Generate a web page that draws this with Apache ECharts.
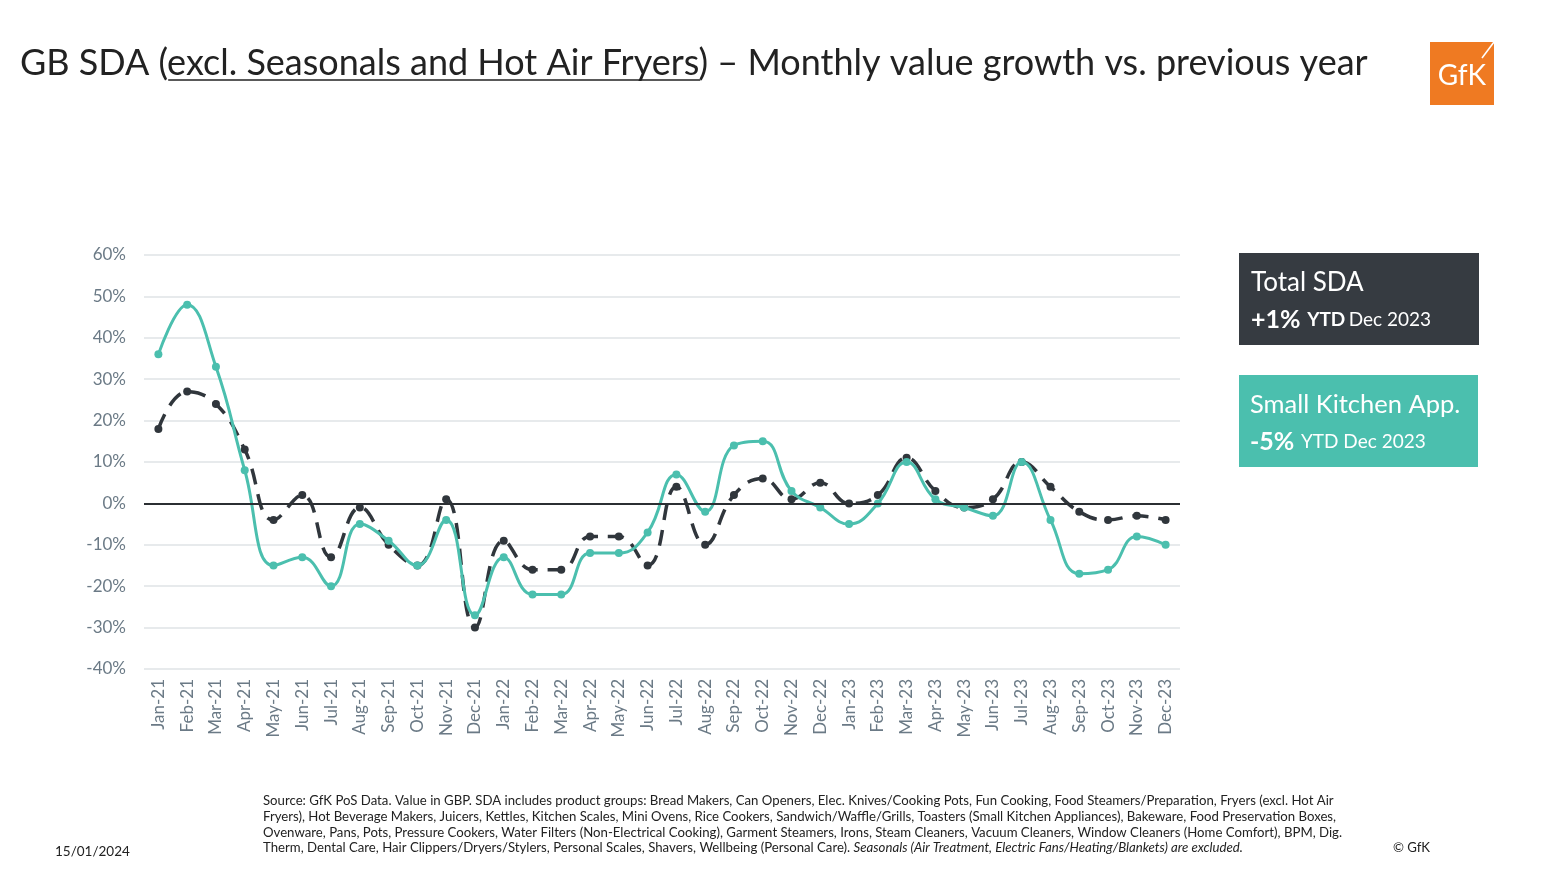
<!DOCTYPE html>
<html><head><meta charset="utf-8">
<script src="https://cdn.jsdelivr.net/npm/echarts@6/dist/echarts.min.js"></script>
<style>html,body{margin:0;padding:0;background:#fff}#c{width:1564px;height:878px}</style>
</head><body><div id="c"></div>
<script>
const months = ['Jan-21','Feb-21','Mar-21','Apr-21','May-21','Jun-21','Jul-21','Aug-21','Sep-21','Oct-21','Nov-21','Dec-21',
'Jan-22','Feb-22','Mar-22','Apr-22','May-22','Jun-22','Jul-22','Aug-22','Sep-22','Oct-22','Nov-22','Dec-22',
'Jan-23','Feb-23','Mar-23','Apr-23','May-23','Jun-23','Jul-23','Aug-23','Sep-23','Oct-23','Nov-23','Dec-23'];
const totalSDA = [18,27,24,13,-4,2,-13,-1,-10,-15,1,-30, -9,-16,-16,-8,-8,-15,4,-10,2,6,1,5, 0,2,11,3,-1,1,10,4,-2,-4,-3,-4];
const smallKitchen = [36,48,33,8,-15,-13,-20,-5,-9,-15,-4,-27, -13,-22,-22,-12,-12,-7,7,-2,14,15,3,-1, -5,0,10,1,-1,-3,10,-4,-17,-16,-8,-10];
const yTicks = [-40,-30,-20,-10,0,10,20,30,40,50,60];

const titlePre = 'GB SDA (';
const titleUl = 'excl. Seasonals and Hot Air Fryers';
const titlePost = ') – Monthly value growth vs. previous year';
const footLines = [
 'Source: GfK PoS Data. Value in GBP. SDA includes product groups: Bread Makers, Can Openers, Elec. Knives/Cooking Pots, Fun Cooking, Food Steamers/Preparation, Fryers (excl. Hot Air',
 'Fryers), Hot Beverage Makers, Juicers, Kettles, Kitchen Scales, Mini Ovens, Rice Cookers, Sandwich/Waffle/Grills, Toasters (Small Kitchen Appliances), Bakeware, Food Preservation Boxes,',
 'Ovenware, Pans, Pots, Pressure Cookers, Water Filters (Non-Electrical Cooking), Garment Steamers, Irons, Steam Cleaners, Vacuum Cleaners, Window Cleaners (Home Comfort), BPM, Dig.',
 'Therm, Dental Care, Hair Clippers/Dryers/Stylers, Personal Scales, Shavers, Wellbeing (Personal Care). '
];
const footItalic = 'Seasonals (Air Treatment, Electric Fans/Heating/Blankets) are excluded.';

const FONT = 'Lato, "Open Sans", sans-serif';
const cv = document.createElement('canvas').getContext('2d');
function w(t, f){ cv.font = f; return cv.measureText(t).width; }
const titleFontSize = 36;
const tf = titleFontSize + 'px Lato';
const ulStart = 20 + w(titlePre, tf);
const ulEnd = ulStart + w(titleUl, tf);
const FF = '13.2px Lato';
const fItalicX = 263 + w(footLines[3], FF);

const chart = echarts.init(document.getElementById('c'), null, {renderer:'canvas'});
const TEAL = '#4bbfae', DARK = '#30363c', GRAY = '#6b7a86';
chart.setOption({
  animation:false,
  textStyle:{fontFamily:FONT},
  grid:{left:144, right:384, top:255, bottom:209, containLabel:false},
  xAxis:{type:'category', data:months, boundaryGap:true,
    axisLine:{show:false}, axisTick:{show:false},
    axisLabel:{rotate:90, color:GRAY, fontSize:17, fontFamily:FONT, margin:10, interval:0}},
  yAxis:{type:'value', min:-40, max:60, interval:10,
    axisLine:{show:false}, axisTick:{show:false},
    axisLabel:{color:GRAY, fontSize:17, fontFamily:FONT, margin:18, formatter:v=>v+'%'},
    splitLine:{lineStyle:{color:'#dfe3e6', width:1.5}}},
  series:[
    {name:'Total SDA', type:'line', data:totalSDA, smooth:0.45, symbol:'circle', symbolSize:8,
      itemStyle:{color:DARK}, lineStyle:{color:DARK, width:3.5, type:[16,10]}, z:3,
      markLine:{silent:true, symbol:'none', label:{show:false}, lineStyle:{color:'#2b2f33', width:2, type:'solid'},
        data:[{yAxis:0}]}},
    {name:'Small Kitchen App.', type:'line', data:smallKitchen, smooth:0.45, symbol:'circle', symbolSize:8,
      itemStyle:{color:TEAL}, lineStyle:{color:TEAL, width:3}, z:4}
  ],
  graphic:[
    {type:'text', x:20, y:63, style:{text:titlePre+titleUl+titlePost, font:tf, fill:'#222', verticalAlign:'middle'}},
    {type:'line', shape:{x1:ulStart, y1:80, x2:ulEnd, y2:80}, style:{stroke:'#222', lineWidth:1.5}},
    {type:'rect', shape:{x:1430, y:42, width:64, height:63}, style:{fill:'#ef7a22'}},
    {type:'text', x:1462, y:76, style:{text:'GfK', font:'28px Lato', fill:'#fff', align:'center', verticalAlign:'middle'}},
    {type:'line', shape:{x1:1482, y1:58, x2:1494, y2:42}, style:{stroke:'#fff', lineWidth:1.5}},
    {type:'rect', shape:{x:1239, y:253, width:240, height:92}, style:{fill:'#363b41'}},
    {type:'text', x:1251, y:283, style:{text:'Total SDA', font:'26px Lato', fill:'#fff', verticalAlign:'middle'}},
    {type:'text', x:1251, y:320, style:{text:'{b|+1%}  {s|YTD} {n|Dec 2023}', verticalAlign:'middle',
      rich:{b:{font:'bold 25px Lato', fill:'#fff'}, s:{font:'bold 19px Lato', fill:'#fff'}, n:{font:'19px Lato', fill:'#fff'}}}},
    {type:'rect', shape:{x:1239, y:375, width:239, height:92}, style:{fill:'#4bbfae'}},
    {type:'text', x:1250, y:405, style:{text:'Small Kitchen App.', font:'25.5px Lato', fill:'#fff', verticalAlign:'middle'}},
    {type:'text', x:1250, y:442, style:{text:'{b|-5%}  {n|YTD Dec 2023}', verticalAlign:'middle',
      rich:{b:{font:'bold 25px Lato', fill:'#fff'}, n:{font:'19px Lato', fill:'#fff'}}}},
    {type:'text', x:263, y:801, style:{text:footLines[0], font:FF, fill:'#222', verticalAlign:'middle'}},
    {type:'text', x:263, y:817, style:{text:footLines[1], font:FF, fill:'#222', verticalAlign:'middle'}},
    {type:'text', x:263, y:833, style:{text:footLines[2], font:FF, fill:'#222', verticalAlign:'middle'}},
    {type:'text', x:263, y:848, style:{text:footLines[3], font:FF, fill:'#222', verticalAlign:'middle'}},
    {type:'text', x:fItalicX, y:848, style:{text:footItalic, font:'italic ' + FF, fill:'#222', verticalAlign:'middle'}},
    {type:'text', x:1393, y:848, style:{text:'© GfK', font:FF, fill:'#222', verticalAlign:'middle'}},
    {type:'text', x:55, y:852, style:{text:'15/01/2024', font:'13.5px Lato', fill:'#222', verticalAlign:'middle'}}
  ]
});
</script></body></html>
